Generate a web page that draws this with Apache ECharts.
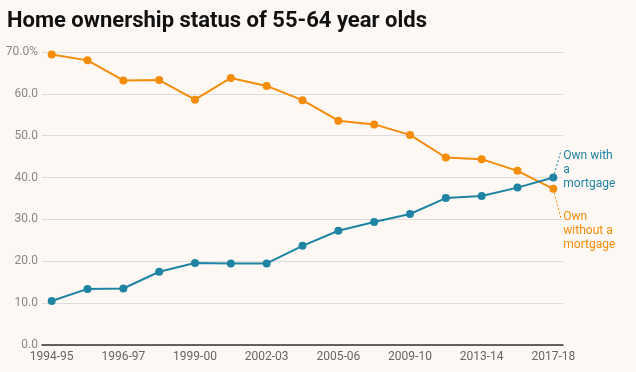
<!DOCTYPE html>
<html>
<head>
<meta charset="utf-8">
<script src="https://cdn.jsdelivr.net/npm/echarts@6/dist/echarts.min.js"></script>
<style>
html,body{margin:0;padding:0;background:#fdf8f4;}
#c{width:636px;height:372px;}
</style>
</head>
<body>
<div id="c"></div>
<script>
const categories = ['1994-95','1995-96','1996-97','1997-98','1999-00','2000-01','2002-03','2003-04','2005-06','2007-08','2009-10','2011-12','2013-14','2015-16','2017-18'];
const withMortgage = [10.5,13.4,13.5,17.5,19.6,19.5,19.5,23.7,27.3,29.4,31.3,35.1,35.6,37.6,40.0];
const withoutMortgage = [69.4,68.0,63.2,63.3,58.6,63.8,61.9,58.5,53.6,52.7,50.2,44.8,44.4,41.6,37.3];
const labelledIndices = [0,2,4,6,8,10,12,14];

const BLUE = '#1f83a3';
const ORANGE = '#f58c0a';

function withEndLabel(arr, text, color){
  const d = arr.map((v,i)=>({value:[i,v]}));
  const last = d[d.length-1];
  last.label = {show:true, position:'right', distance:6, formatter:text, color:color,
    fontFamily:'Roboto', fontSize:12, lineHeight:14, align:'left', verticalAlign:'middle'};
  return d;
}
// dotted leader from the last point towards its label (offset in axis units)
function leader(arr, color, offX, offY){
  const i = arr.length-1;
  return {silent:true, symbol:['none','none'], animation:false,
    label:{show:false},
    lineStyle:{color:color, type:[2,2], width:1},
    emphasis:{disabled:true},
    data:[[{coord:[i, arr[i]]},{coord:[i+offX, arr[i]+offY]}]]};
}

const chart = echarts.init(document.getElementById('c'), null, {renderer:'canvas'});
chart.setOption({
  backgroundColor:'#fdf8f4',
  animation:false,
  title:{text:'Home ownership status of 55-64 year olds', left:2, top:5,
    textStyle:{fontFamily:'Roboto', fontWeight:'bold', fontSize:22, color:'#111'}},
  grid:{left:42, right:73, top:52, bottom:27, containLabel:false},
  xAxis:{type:'value', min:-0.27, max:14.27,
    axisLine:{show:true, lineStyle:{color:'#333', width:1.5}},
    axisTick:{show:false},
    splitLine:{show:false},
    axisLabel:{customValues:labelledIndices, formatter:v=>categories[Math.round(v)],
      color:'#666', fontFamily:'Roboto', fontSize:12, margin:6}},
  yAxis:{type:'value', min:0, max:70, interval:10,
    axisLine:{show:false}, axisTick:{show:false},
    splitLine:{lineStyle:{color:'#dcdcdc', width:1}},
    axisLabel:{color:'#888', fontFamily:'Roboto', fontSize:12, margin:4,
      formatter:v=> v===70 ? v.toFixed(1)+'%' : v.toFixed(1)}},
  series:[
    {type:'line', name:'Own without a mortgage', data:withEndLabel(withoutMortgage,'Own\nwithout a\nmortgage',ORANGE),
      labelLayout:{dy:42}, markLine:leader(withoutMortgage, ORANGE, 0.22, -7.3),
      symbol:'circle', symbolSize:8, itemStyle:{color:ORANGE}, lineStyle:{color:ORANGE, width:2}},
    {type:'line', name:'Own with a mortgage', data:withEndLabel(withMortgage,'Own with\na\nmortgage',BLUE),
      labelLayout:{dy:-8}, markLine:leader(withMortgage, BLUE, 0.2, 6.0),
      symbol:'circle', symbolSize:8, itemStyle:{color:BLUE}, lineStyle:{color:BLUE, width:2}}
  ]
});
</script>
</body>
</html>
